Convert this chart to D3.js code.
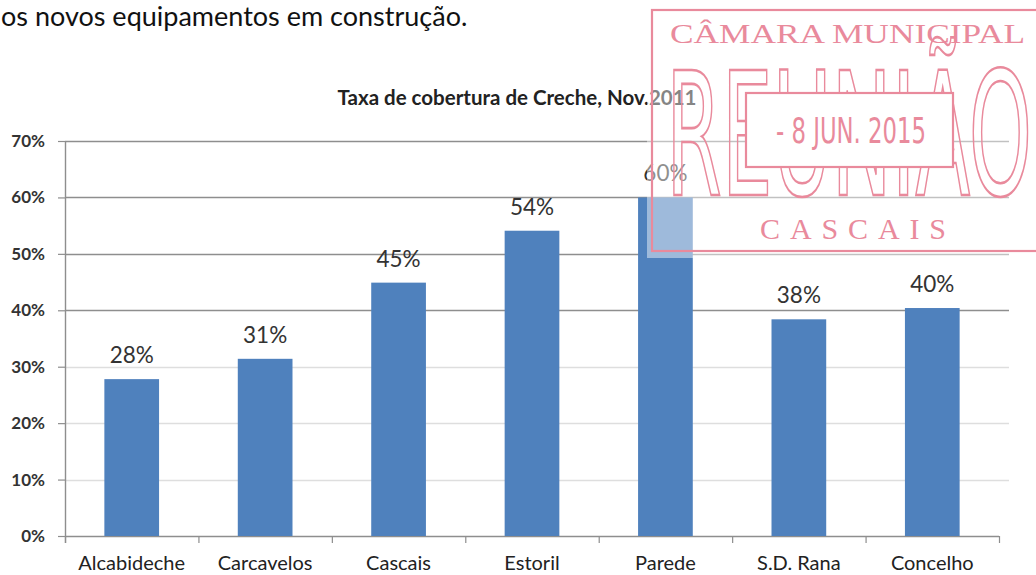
<!DOCTYPE html>
<html>
<head>
<meta charset="utf-8">
<script src="https://cdn.jsdelivr.net/npm/d3@7"></script>
<style>
  html, body { margin: 0; padding: 0; background: #fff; }
  svg { display: block; }
</style>
</head>
<body>
<svg id="chart" width="1036" height="575"></svg>
<script>
// Taxa de cobertura de Creche por freguesia, Nov. 2011
const categories = ["Alcabideche", "Carcavelos", "Cascais", "Estoril", "Parede", "S.D. Rana", "Concelho"];
const coverage = [0.278, 0.314, 0.449, 0.541, 0.600, 0.384, 0.404];
const yTicks = [0, 0.1, 0.2, 0.3, 0.4, 0.5, 0.6, 0.7];
const chartTitle = "Taxa de cobertura de Creche, Nov.2011";
const introText = "os novos equipamentos em construção.";
const stampLines = ["CÂMARA MUNICIPAL", "REUNIÃO", "- 8 JUN. 2015", "CASCAIS"];

const svg = d3.select("#chart");
const W = 1036, H = 575;
const plot = { left: 65, right: 999, top: 141, bottom: 536 };
const sans = "Lato, 'Open Sans', sans-serif";

const x = d3.scaleBand()
  .domain(categories)
  .range([plot.left, plot.right])
  .paddingInner(0.59)
  .paddingOuter(0.295);

const y = d3.scaleLinear().domain([0, 0.7]).range([plot.bottom, plot.top]);
const pct = d3.format(".0%");

// line of body text above the chart
svg.append("text")
  .attr("x", 1).attr("y", 26)
  .attr("font-family", sans)
  .attr("font-size", 27)
  .attr("fill", "#111")
  .text(introText);

// chart title
svg.append("text")
  .attr("x", 517).attr("y", 105)
  .attr("text-anchor", "middle")
  .attr("font-family", sans)
  .attr("font-weight", "bold")
  .attr("font-size", 20.5)
  .attr("fill", "#222")
  .text(chartTitle);

// horizontal gridlines
svg.append("g")
  .selectAll("line")
  .data(yTicks.filter(d => d > 0))
  .join("line")
  .attr("x1", plot.left).attr("x2", plot.right + 10)
  .attr("y1", d => Math.round(y(d)) + 0.5).attr("y2", d => Math.round(y(d)) + 0.5)
  .attr("stroke", d => d >= 0.4 ? "#8e8e8e" : "#dedede")
  .attr("stroke-width", 1.4);

// y axis
const yAxis = svg.append("g")
  .attr("transform", `translate(${plot.left},0)`)
  .call(d3.axisLeft(y).tickValues(yTicks).tickFormat(pct).tickSize(7).tickPadding(13));
yAxis.select(".domain").remove();
yAxis.selectAll(".tick line").attr("stroke", "#8e8e8e").attr("stroke-width", 1.2);
yAxis.selectAll(".tick text")
  .attr("font-family", sans)
  .attr("font-weight", "bold")
  .attr("font-size", 17)
  .attr("fill", "#333");
svg.append("line")
  .attr("x1", plot.left + 0.5).attr("x2", plot.left + 0.5)
  .attr("y1", plot.top).attr("y2", plot.bottom + 7)
  .attr("stroke", "#8e8e8e").attr("stroke-width", 1.4);

// x axis line and category separators
svg.append("line")
  .attr("x1", plot.left).attr("x2", plot.right)
  .attr("y1", plot.bottom + 0.5).attr("y2", plot.bottom + 0.5)
  .attr("stroke", "#8e8e8e").attr("stroke-width", 1.4);
svg.append("g")
  .selectAll("line")
  .data(d3.range(categories.length + 1))
  .join("line")
  .attr("x1", i => plot.left + i * x.step() + 0.5)
  .attr("x2", i => plot.left + i * x.step() + 0.5)
  .attr("y1", plot.bottom).attr("y2", plot.bottom + 7)
  .attr("stroke", "#8e8e8e").attr("stroke-width", 1.2);

// category labels
svg.append("g")
  .selectAll("text")
  .data(categories)
  .join("text")
  .attr("x", d => x(d) + x.bandwidth() / 2)
  .attr("y", 570)
  .attr("text-anchor", "middle")
  .attr("font-family", sans)
  .attr("font-size", 20)
  .attr("fill", "#222")
  .text(d => d);

// bars
const data = categories.map((c, i) => ({ c, v: coverage[i] }));
svg.append("g")
  .selectAll("rect")
  .data(data)
  .join("rect")
  .attr("x", d => x(d.c))
  .attr("y", d => y(d.v))
  .attr("width", x.bandwidth())
  .attr("height", d => y(0) - y(d.v))
  .attr("fill", "#4f81bd");

// value labels
svg.append("g")
  .selectAll("text")
  .data(data)
  .join("text")
  .attr("x", d => x(d.c) + x.bandwidth() / 2)
  .attr("y", d => y(d.v) - 16)
  .attr("text-anchor", "middle")
  .attr("font-family", sans)
  .attr("font-size", 22.5)
  .attr("fill", "#333")
  .text(d => pct(d.v));

// stamp: paper patch laid over the chart corner
svg.append("rect")
  .attr("x", 647).attr("y", 0)
  .attr("width", W - 647).attr("height", 258)
  .attr("fill", "#fff").attr("opacity", 0.45);

const ink = "#e98a9c";
const stamp = svg.append("g");

stamp.append("rect")
  .attr("x", 652).attr("y", 10)
  .attr("width", 420).attr("height", 241)
  .attr("fill", "none").attr("stroke", ink).attr("stroke-width", 2.2);

stamp.append("text")
  .attr("x", 670).attr("y", 43)
  .attr("font-family", "'Liberation Serif', 'DejaVu Serif', serif")
  .attr("font-size", 27)
  .attr("textLength", 355).attr("lengthAdjust", "spacingAndGlyphs")
  .attr("fill", ink)
  .text(stampLines[0]);

stamp.append("text")
  .attr("x", 666).attr("y", 195)
  .attr("font-family", "'Liberation Sans Narrow', 'DejaVu Sans Condensed', sans-serif")
  .attr("font-size", 172)
  .attr("textLength", 366).attr("lengthAdjust", "spacingAndGlyphs")
  .attr("fill", "none").attr("stroke", ink).attr("stroke-width", 2.6)
  .text(stampLines[1]);

stamp.append("rect")
  .attr("x", 746).attr("y", 93)
  .attr("width", 207).attr("height", 74)
  .attr("fill", "#fff").attr("stroke", ink).attr("stroke-width", 2.2);

stamp.append("text")
  .attr("x", 776).attr("y", 143)
  .attr("font-family", "'Liberation Sans Narrow', 'DejaVu Sans Condensed', sans-serif")
  .attr("font-size", 35)
  .attr("textLength", 150).attr("lengthAdjust", "spacingAndGlyphs")
  .attr("fill", ink)
  .text(stampLines[2]);

stamp.append("text")
  .attr("x", 760).attr("y", 239)
  .attr("font-family", "'Liberation Serif', 'DejaVu Serif', serif")
  .attr("font-size", 30)
  .attr("textLength", 186).attr("lengthAdjust", "spacing")
  .attr("fill", ink)
  .text(stampLines[3]);
</script>
</body>
</html>
